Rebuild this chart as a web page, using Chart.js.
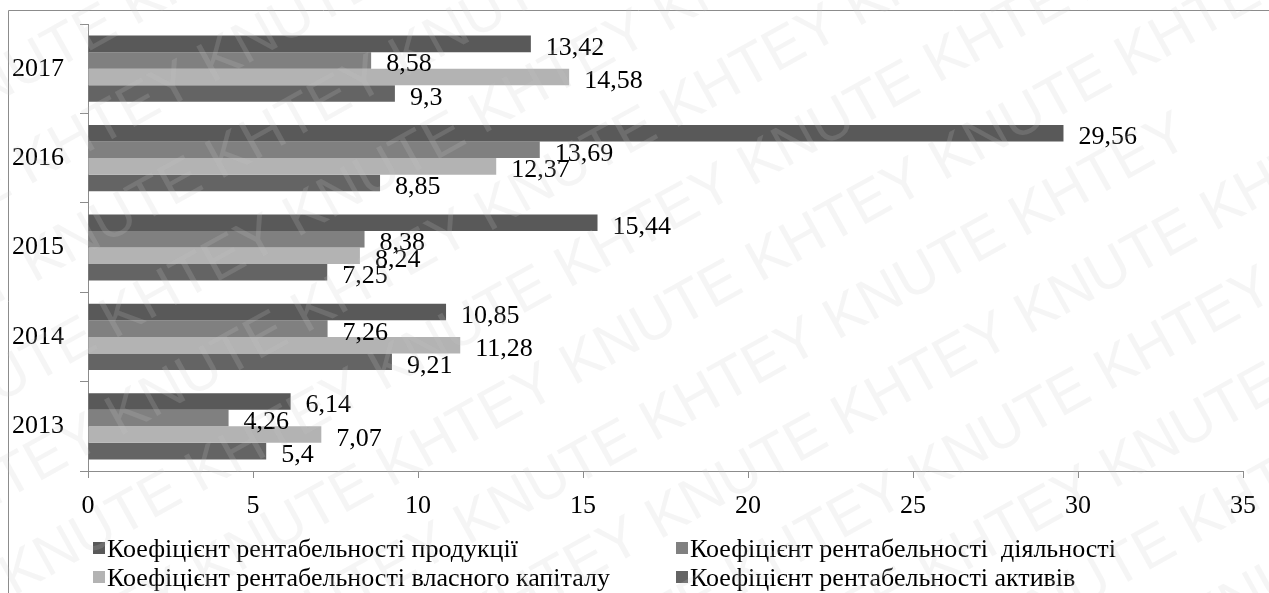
<!DOCTYPE html>
<html>
<head>
<meta charset="utf-8">
<script src="https://cdn.jsdelivr.net/npm/chart.js@4"></script>
<style>
  html, body { margin: 0; padding: 0; background: #fff; }
  #wrap { position: relative; width: 1269px; height: 593px; }
</style>
</head>
<body>
<div id="wrap"><canvas id="chart" width="1269" height="593"></canvas></div>
<script>
const years = ['2017', '2016', '2015', '2014', '2013'];
const seriesNames = [
    'Коефіцієнт рентабельності продукції',
    'Коефіцієнт рентабельності  діяльності',
    'Коефіцієнт рентабельності власного капіталу',
    'Коефіцієнт рентабельності активів'
];
const production = [13.42, 29.56, 15.44, 10.85, 6.14];
const activity = [8.58, 13.69, 8.38, 7.26, 4.26];
const equity = [14.58, 12.37, 8.24, 11.28, 7.07];
const assets = [9.3, 8.85, 7.25, 9.21, 5.4];
const colors = ['#595959', '#808080', '#b3b3b3', '#646464'];

const FONT = '"Liberation Serif", "Times New Roman", serif';
const FS = 26;

// frame lines (left and top)
const framePlugin = {
    id: 'frame',
    beforeDraw(chart) {
        const ctx = chart.ctx;
        ctx.save();
        ctx.strokeStyle = '#8c8c8c';
        ctx.lineWidth = 1;
        ctx.beginPath();
        ctx.moveTo(8.5, 593);
        ctx.lineTo(8.5, 10.5);
        ctx.lineTo(1269, 10.5);
        ctx.stroke();
        ctx.restore();
    }
};

// value labels right of each bar
const valueLabels = {
    id: 'valueLabels',
    afterDatasetsDraw(chart) {
        const ctx = chart.ctx;
        ctx.save();
        ctx.font = FS + 'px ' + FONT;
        ctx.fillStyle = '#000';
        ctx.textBaseline = 'alphabetic';
        ctx.textAlign = 'left';
        chart.data.datasets.forEach((ds, i) => {
            chart.getDatasetMeta(i).data.forEach((bar, j) => {
                const txt = String(ds.data[j]).replace('.', ',');
                ctx.fillText(txt, bar.x + 15, bar.y + 11);
            });
        });
        ctx.restore();
    }
};

// legend in two columns
const legendPlugin = {
    id: 'legend2col',
    afterDraw(chart) {
        const ctx = chart.ctx;
        ctx.save();
        ctx.font = FS + 'px ' + FONT;
        ctx.textBaseline = 'alphabetic';
        const cols = [93, 676];
        const rows = [548, 577];
        chart.data.datasets.forEach((ds, i) => {
            const x = cols[i % 2], y = rows[Math.floor(i / 2)];
            ctx.fillStyle = ds.backgroundColor;
            ctx.fillRect(x, y - 6, 12, 12);
            ctx.fillStyle = '#000';
            ctx.fillText(ds.label, x + 14, y + 9);
        });
        ctx.restore();
    }
};

const watermark = {
    id: 'watermark',
    afterDraw(chart) {
        const ctx = chart.ctx;
        ctx.save();
        ctx.font = '58px "Liberation Sans", sans-serif';
        ctx.fillStyle = 'rgba(200,200,200,0.18)';
        ctx.rotate(-Math.PI / 6.2);
        const line = 'KNUTE KHTEY KNUTE KHTEY KNUTE KHTEY KNUTE KHTEY';
        for (let r = -8; r < 14; r++) {
            ctx.fillText(line, -700 + (r % 2) * 170, r * 88);
        }
        ctx.restore();
    }
};

new Chart(document.getElementById('chart'), {
    type: 'bar',
    data: {
        labels: years,
        datasets: [
            { label: seriesNames[0], data: production, backgroundColor: colors[0] },
            { label: seriesNames[1], data: activity, backgroundColor: colors[1] },
            { label: seriesNames[2], data: equity, backgroundColor: colors[2] },
            { label: seriesNames[3], data: assets, backgroundColor: colors[3] }
        ]
    },
    options: {
        indexAxis: 'y',
        responsive: false,
        animation: false,
        layout: { padding: { top: 24, right: 22, left: 0, bottom: 0 } },
        categoryPercentage: 0.74,
        barPercentage: 1,
        plugins: {
            legend: { display: false },
            tooltip: { enabled: false }
        },
        scales: {
            x: {
                min: 0,
                max: 35,
                ticks: { stepSize: 5, color: '#000', font: { family: FONT, size: FS }, padding: 13 },
                grid: { drawOnChartArea: false, color: '#8c8c8c', tickLength: 7 },
                border: { color: '#8c8c8c' },
                afterFit(scale) { scale.height = 122; }
            },
            y: {
                ticks: { color: '#000', font: { family: FONT, size: FS }, padding: 16 },
                grid: { drawOnChartArea: false, color: '#8c8c8c', tickLength: 8, offset: true },
                border: { color: '#8c8c8c' },
                afterFit(scale) {
                    scale.width = 88;
                    scale.paddingTop = 0;
                    scale.paddingBottom = 0;
                }
            }
        }
    },
    plugins: [framePlugin, valueLabels, legendPlugin, watermark]
});
</script>
</body>
</html>
